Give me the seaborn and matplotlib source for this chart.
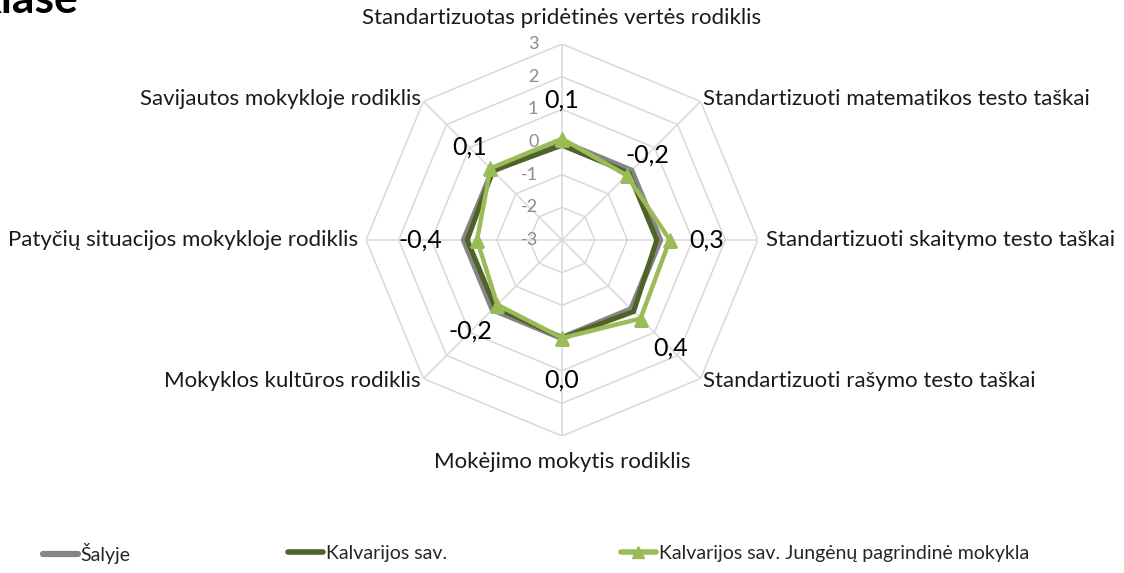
import numpy as np
import pandas as pd
import matplotlib
matplotlib.use("Agg")
import matplotlib.pyplot as plt
from matplotlib.lines import Line2D
import seaborn as sns

categories = [
    "Standartizuotas pridėtinės vertės rodiklis",
    "Standartizuoti matematikos testo taškai",
    "Standartizuoti skaitymo testo taškai",
    "Standartizuoti rašymo testo taškai",
    "Mokėjimo mokytis rodiklis",
    "Mokyklos kultūros rodiklis",
    "Patyčių situacijos mokykloje rodiklis",
    "Savijautos mokykloje rodiklis",
]
salyje = [0.0, 0.0, 0.0, 0.0, 0.0, 0.0, 0.0, 0.0]
kalvarijos = [-0.1, -0.1, -0.1, 0.1, 0.0, -0.1, -0.1, 0.0]
jungenu = [0.1, -0.2, 0.3, 0.4, 0.0, -0.2, -0.4, 0.1]
series_names = ["Šalyje", "Kalvarijos sav.", "Kalvarijos sav. Jungėnų pagrindinė mokykla"]
r_ticks = [-3, -2, -1, 0, 1, 2, 3]

sns.set_style("white")
plt.rcParams["font.family"] = ["Lato", "DejaVu Sans"]

colors = {"Šalyje": "#858585", "Kalvarijos sav.": "#4f6228",
          "Kalvarijos sav. Jungėnų pagrindinė mokykla": "#9bbb59"}
widths = {"Šalyje": 4.6, "Kalvarijos sav.": 3.6,
          "Kalvarijos sav. Jungėnų pagrindinė mokykla": 3.2}

n = len(categories)
angles = np.linspace(0, 2 * np.pi, n, endpoint=False)
closed = np.append(angles, angles[0] + 2 * np.pi)

rows = []
for name, vals in zip(series_names, [salyje, kalvarijos, jungenu]):
    for a, v in zip(closed, vals + vals[:1]):
        rows.append({"series": name, "angle": a, "value": v})
df = pd.DataFrame(rows)

fig = plt.figure(figsize=(11.24, 5.73), dpi=100)
ax = fig.add_axes([0.3256, 0.2391, 0.3488, 0.6841], polar=True)
ax.set_theta_zero_location("N")
ax.set_theta_direction(-1)
ax.set_ylim(-3, 3)
ax.grid(False)
ax.spines["polar"].set_visible(False)
ax.set_xticks([])
ax.set_yticks([])

# octagon grid
grid_c = "#d9d9d9"
for lvl in r_ticks[1:]:
    ax.plot(closed, [lvl] * len(closed), color=grid_c, lw=1.1, zorder=1)
for a in angles:
    ax.plot([a, a], [-3, 3], color=grid_c, lw=1.1, zorder=1)

for lvl in r_ticks:
    ax.annotate(str(lvl), xy=(0, lvl), xytext=(-17, 0), textcoords="offset points",
                ha="right", va="center", fontsize=13, color="#8c8c8c")

for i, name in enumerate(series_names):
    sub = df[df["series"] == name]
    sns.lineplot(data=sub, x="angle", y="value", ax=ax, sort=False, estimator=None,
                 color=colors[name], lw=widths[name], legend=False,
                 marker="^" if i == 2 else None, markersize=10,
                 markeredgecolor=colors[name], zorder=3 + i)
ax.set_xlabel("")
ax.set_ylabel("")
ax.set_ylim(-3, 3)

# data labels for the school series (offset from the point, in px)
label_offset_px = [39, 29, 37, 42, 42, 38, 57, 30]
for a, v, d in zip(angles, jungenu, label_offset_px):
    d = d * 72 / 100
    ax.annotate(f"{v:.1f}".replace(".", ","), xy=(a, v),
                xytext=(d * np.sin(a), d * np.cos(a)), textcoords="offset points",
                ha="center", va="center", fontsize=18, color="black", zorder=10)

# category labels
for a, lab in zip(angles, categories):
    s, c = np.sin(a), np.cos(a)
    if abs(s) < 0.01:
        ha = "center"
        r = 3.8
    else:
        ha = "left" if s > 0 else "right"
        r = 3.25 if abs(c) < 0.01 else 3.1
    ax.text(a, r, lab, ha=ha, va="center", fontsize=16, color="#1a1a1a", clip_on=False)

# cut-off title fragment
fig.text(-0.0205, 1 - 13 / 573, "klase", fontsize=32, fontweight="bold",
         ha="left", va="baseline", color="black")

# legend
handles = [
    Line2D([], [], color=colors[series_names[0]], lw=4.5),
    Line2D([], [], color=colors[series_names[1]], lw=4.0),
    Line2D([], [], color=colors[series_names[2]], lw=4.0, marker="^", markersize=8,
           markevery=[1]),
]
xs = [42 / 1124, 287 / 1124, 620 / 1124]
for h, name, x in zip(handles, series_names, xs):
    h.set_xdata([0, 0.5, 1])
    h.set_ydata([0, 0, 0])
    fig.legend(handles=[h], labels=[name], loc="center left",
               bbox_to_anchor=(x - 0.008, 1 - 553 / 573), frameon=False,
               fontsize=14, handlelength=1.8, handletextpad=0.15, borderpad=0)

fig.savefig("out.png", dpi=100, facecolor="white")
